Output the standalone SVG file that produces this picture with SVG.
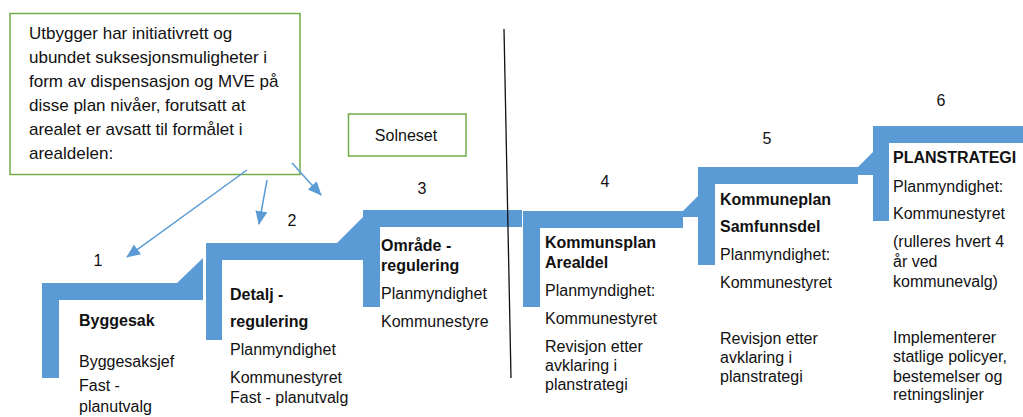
<svg xmlns="http://www.w3.org/2000/svg" width="1023" height="417" viewBox="0 0 1023 417">
<defs>
<style>
.t{font-family:"Liberation Sans",Arial,sans-serif;font-size:16px;fill:#111}
.b{font-weight:bold}
.c{font-family:"Liberation Sans",Arial,sans-serif;font-size:17px;fill:#111}
.n{font-family:"Liberation Sans",Arial,sans-serif;font-size:16px;fill:#111;text-anchor:middle}
.st{fill:#5B9BD5}
.box{fill:#fff;stroke:#70AD47;stroke-width:1.5}
.ar{stroke:#5B9BD5;stroke-width:1.5;fill:none}
</style>
<marker id="ah" markerWidth="14" markerHeight="12" refX="13" refY="6" orient="auto" markerUnits="userSpaceOnUse">
<path d="M0,0 L14,6 L0,12 Z" fill="#5B9BD5"/>
</marker>
</defs>
<rect width="1023" height="417" fill="#fff"/>

<g id="step1">
<path class="st" d="M42,283 H203 V300 H59 V378 H42 Z"/>
<path class="st" d="M177,283 L203,258 L203,283 Z"/>
<text class="n" x="98" y="266">1</text>
<text class="t b" x="79" y="326">Byggesak</text>
<text class="t" x="79" y="367">Byggesaksjef</text>
<text class="t" x="79" y="391">Fast -</text>
<text class="t" x="79" y="412">planutvalg</text>
</g>

<g id="step2">
<path class="st" d="M206,243 H363 V260 H222 V340 H206 Z"/>
<path class="st" d="M337,243 L363,217 L363,243 Z"/>
<text class="n" x="292" y="226">2</text>
<text class="t b" x="230" y="300">Detalj -</text>
<text class="t b" x="230" y="327">regulering</text>
<text class="t" x="230" y="355">Planmyndighet</text>
<text class="t" x="230" y="383">Kommunestyret</text>
<text class="t" x="230" y="403">Fast - planutvalg</text>
</g>

<g id="step3">
<path class="st" d="M363,210 H522 V227 H380 V307 H363 Z"/>
<text class="n" x="422" y="194">3</text>
<text class="t b" x="381" y="251">Område -</text>
<text class="t b" x="381" y="271">regulering</text>
<text class="t" x="381" y="299">Planmyndighet</text>
<text class="t" x="381" y="327">Kommunestyre</text>
</g>

<g id="step4">
<path class="st" d="M523,211 H683 V228 H540 V307 H523 Z"/>
<path class="st" d="M683,211 L698,196 L698,217 L683,217 Z"/>
<text class="n" x="605" y="187">4</text>
<text class="t b" x="545" y="248">Kommunsplan</text>
<text class="t b" x="545" y="268">Arealdel</text>
<text class="t" x="545" y="296">Planmyndighet:</text>
<text class="t" x="545" y="324">Kommunestyret</text>
<text class="t" x="545" y="352">Revisjon etter</text>
<text class="t" x="545" y="371">avklaring i</text>
<text class="t" x="545" y="390">planstrategi</text>
</g>

<g id="step5">
<path class="st" d="M698,167 H858 V184 H715 V265 H698 Z"/>
<path class="st" d="M858,167 L873,152 L873,175 L858,175 Z"/>
<text class="n" x="767" y="144">5</text>
<text class="t b" x="720" y="205">Kommuneplan</text>
<text class="t b" x="720" y="232">Samfunnsdel</text>
<text class="t" x="720" y="260">Planmyndighet:</text>
<text class="t" x="720" y="288">Kommunestyret</text>
<text class="t" x="720" y="344">Revisjon etter</text>
<text class="t" x="720" y="363">avklaring i</text>
<text class="t" x="720" y="382">planstrategi</text>
</g>

<g id="step6">
<path class="st" d="M873,126 H1023 V143 H889 V221 H873 Z"/>
<text class="n" x="941" y="106">6</text>
<text class="t b" x="893" y="163">PLANSTRATEGI</text>
<text class="t" x="893" y="192">Planmyndighet:</text>
<text class="t" x="893" y="219">Kommunestyret</text>
<text class="t" x="893" y="247">(rulleres hvert 4</text>
<text class="t" x="893" y="267">år ved</text>
<text class="t" x="893" y="287">kommunevalg)</text>
<text class="t" x="893" y="343">Implementerer</text>
<text class="t" x="893" y="362">statlige policyer,</text>
<text class="t" x="893" y="382">bestemelser og</text>
<text class="t" x="893" y="400">retningslinjer</text>
</g>

<g id="callout">
<rect class="box" x="10" y="13.5" width="290" height="161"/>
<text class="c" x="29" y="39">Utbygger har initiativrett og</text>
<text class="c" x="29" y="63">ubundet suksesjonsmuligheter i</text>
<text class="c" x="29" y="87">form av dispensasjon og MVE på</text>
<text class="c" x="29" y="111">disse plan nivåer, forutsatt at</text>
<text class="c" x="29" y="135">arealet er avsatt til formålet i</text>
<text class="c" x="29" y="159">arealdelen:</text>
</g>

<g id="solneset">
<rect class="box" x="348.5" y="114" width="117.5" height="42"/>
<text class="t" x="406" y="141" text-anchor="middle" font-size="15.5">Solneset</text>
</g>

<g id="connectors">
<line class="ar" x1="247" y1="170" x2="127" y2="257" marker-end="url(#ah)"/>
<line class="ar" x1="267" y1="180" x2="259" y2="224" marker-end="url(#ah)"/>
<line class="ar" x1="292" y1="163" x2="321" y2="195" marker-end="url(#ah)"/>
<line x1="504" y1="29" x2="511" y2="378" stroke="#111" stroke-width="1.3"/>
</g>
</svg>
